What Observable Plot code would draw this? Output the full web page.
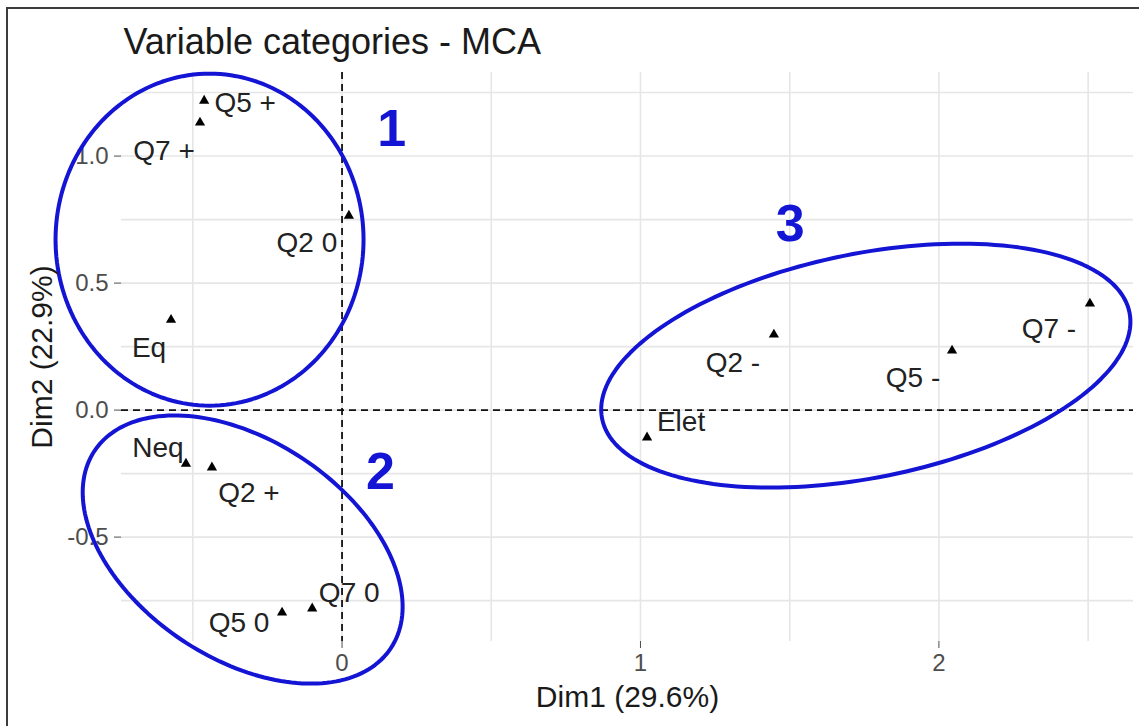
<!DOCTYPE html>
<html>
<head>
<meta charset="utf-8">
<script src="https://cdn.jsdelivr.net/npm/d3@7"></script>
<script src="https://cdn.jsdelivr.net/npm/@observablehq/plot@0.6"></script>
<style>
  body { margin: 0; background: #fff; overflow: hidden; }
  #wrap { position: relative; width: 1139px; height: 726px; overflow: hidden; background: #fff; }
  #border { position: absolute; left: 6px; top: 7px; width: 2000px; height: 2000px;
            border-top: 2px solid #3c3c3c; border-left: 2px solid #3c3c3c; pointer-events: none; }
</style>
</head>
<body>
<div id="wrap"><div id="border"></div></div>
<script>
// ---- Data ----
const categories = ["Q5 +", "Q7 +", "Q2 0", "Eq", "Neq", "Q2 +", "Q5 0", "Q7 0", "Elet", "Q2 -", "Q5 -", "Q7 -"];
const dim1 = [-0.462, -0.476, 0.023, -0.573, -0.523, -0.436, -0.201, -0.100, 1.022, 1.447, 2.044, 2.506];
const dim2 = [1.218, 1.132, 0.765, 0.355, -0.211, -0.226, -0.797, -0.781, -0.108, 0.297, 0.234, 0.419];

const xTicks = [0, 1, 2];
const yTicks = [-0.5, 0, 0.5, 1.0];
const xGrid = [-0.5, 0, 0.5, 1, 1.5, 2, 2.5];
const yGrid = [-0.75, -0.5, -0.25, 0, 0.25, 0.5, 0.75, 1.0, 1.25];

const titleText = "Variable categories - MCA";
const xLabel = "Dim1 (29.6%)";
const yLabel = "Dim2 (22.9%)";

// Hand-drawn group annotations (centers in data units)
const groupIds = ["1", "2", "3"];
const groupCx = [-0.444, -0.333, 1.755];
const groupCy = [0.671, -0.549, 0.175];
const groupNumX = [0.166, 0.129, 1.502];
const groupNumY = [1.104, -0.244, 0.730];

// ---- Layout / style ----
const W = 1139, H = 726;
const mL = 121, mR = 6, mT = 72, mB = 85;
const xDomain = [-0.739, 2.652];
const yDomain = [-0.911, 1.329];
const sx = (W - mL - mR) / (xDomain[1] - xDomain[0]);
const sy = (H - mT - mB) / (yDomain[1] - yDomain[0]);
const font = "'Liberation Sans', Arial, Helvetica, sans-serif";
const blue = "#1414d4";

// ellipse shape (pixels: semi-axes & screen rotation)
const ellipseShape = {
  "1": {a: 154, b: 166, angle: 0},
  "2": {a: 178, b: 109, angle: 33.7},
  "3": {a: 269, b: 112, angle: -11.4}
};
// repel label offsets (pixels)
const labelOffset = {
  "Q5 +": [41, 2], "Q7 +": [-36, 28], "Q2 0": [-42, 27], "Eq": [-22, 28],
  "Neq": [-28, -16], "Q2 +": [37, 26], "Q5 0": [-43, 10], "Q7 0": [37, -15],
  "Elet": [34, -15], "Q2 -": [-41, 28], "Q5 -": [-39, 27], "Q7 -": [-41, 25]
};

const points = categories.map((c, i) => ({name: c, x: dim1[i], y: dim2[i]}));
const groups = groupIds.map((id, i) => ({id, cx: groupCx[i], cy: groupCy[i], nx: groupNumX[i], ny: groupNumY[i]}));

const ellipsePts = [];
for (const g of groups) {
  const s = ellipseShape[g.id];
  const th = s.angle * Math.PI / 180;
  for (let k = 0; k <= 180; k++) {
    const t = 2 * Math.PI * k / 180;
    const ox = s.a * Math.cos(t) * Math.cos(th) - s.b * Math.sin(t) * Math.sin(th);
    const oy = s.a * Math.cos(t) * Math.sin(th) + s.b * Math.sin(t) * Math.cos(th);
    ellipsePts.push({id: g.id, x: g.cx + ox / sx, y: g.cy - oy / sy});
  }
}

const labelMarks = points.map(p => Plot.text([p], {
  x: "x", y: "y", text: "name",
  dx: labelOffset[p.name][0], dy: labelOffset[p.name][1],
  fontSize: 28, fill: "#222", textAnchor: "middle", lineAnchor: "middle"
}));

const chart = Plot.plot({
  width: W, height: H,
  marginLeft: mL, marginRight: mR, marginTop: mT, marginBottom: mB,
  x: {domain: xDomain},
  y: {domain: yDomain},
  style: {fontFamily: font, background: "transparent", overflow: "visible"},
  marks: [
    Plot.ruleX(xGrid, {stroke: "#e6e6e6", strokeWidth: 1.6}),
    Plot.ruleY(yGrid, {stroke: "#e6e6e6", strokeWidth: 1.6}),
    Plot.ruleX([0], {stroke: "#111", strokeWidth: 1.8, strokeDasharray: "7,5"}),
    Plot.ruleY([0], {stroke: "#111", strokeWidth: 1.8, strokeDasharray: "7,5"}),
    Plot.axisX({ticks: xTicks, tickFormat: d => String(d), tickSize: 7, tickPadding: 5,
                fontSize: 24, color: "#4d4d4d", label: null}),
    Plot.axisY({ticks: yTicks, tickFormat: d => d.toFixed(1), tickSize: 7, tickPadding: 6,
                fontSize: 24, color: "#4d4d4d", label: null}),
    Plot.dot(points, {x: "x", y: "y", symbol: "triangle", r: 3.8, fill: "#000"}),
    ...labelMarks,
    Plot.line(ellipsePts, {x: "x", y: "y", z: "id", stroke: blue, strokeWidth: 4, curve: "linear"}),
    Plot.text(groups, {x: "nx", y: "ny", text: "id", fontSize: 52, fontWeight: "bold", fill: blue,
                       textAnchor: "middle", lineAnchor: "middle"}),
    Plot.text([titleText], {text: d => d, frameAnchor: "top-left", textAnchor: "start", lineAnchor: "middle",
                            dx: 2, dy: -30, fontSize: 36, fill: "#1a1a1a"}),
    Plot.text([xLabel], {text: d => d, frameAnchor: "bottom", textAnchor: "middle", lineAnchor: "middle",
                         dy: 56, fontSize: 30, fill: "#1a1a1a"}),
    Plot.text([yLabel], {text: d => d, frameAnchor: "left", textAnchor: "middle", lineAnchor: "middle",
                         rotate: -90, dx: -79, fontSize: 30, fill: "#1a1a1a"})
  ]
});
document.getElementById("wrap").prepend(chart);
</script>
</body>
</html>
